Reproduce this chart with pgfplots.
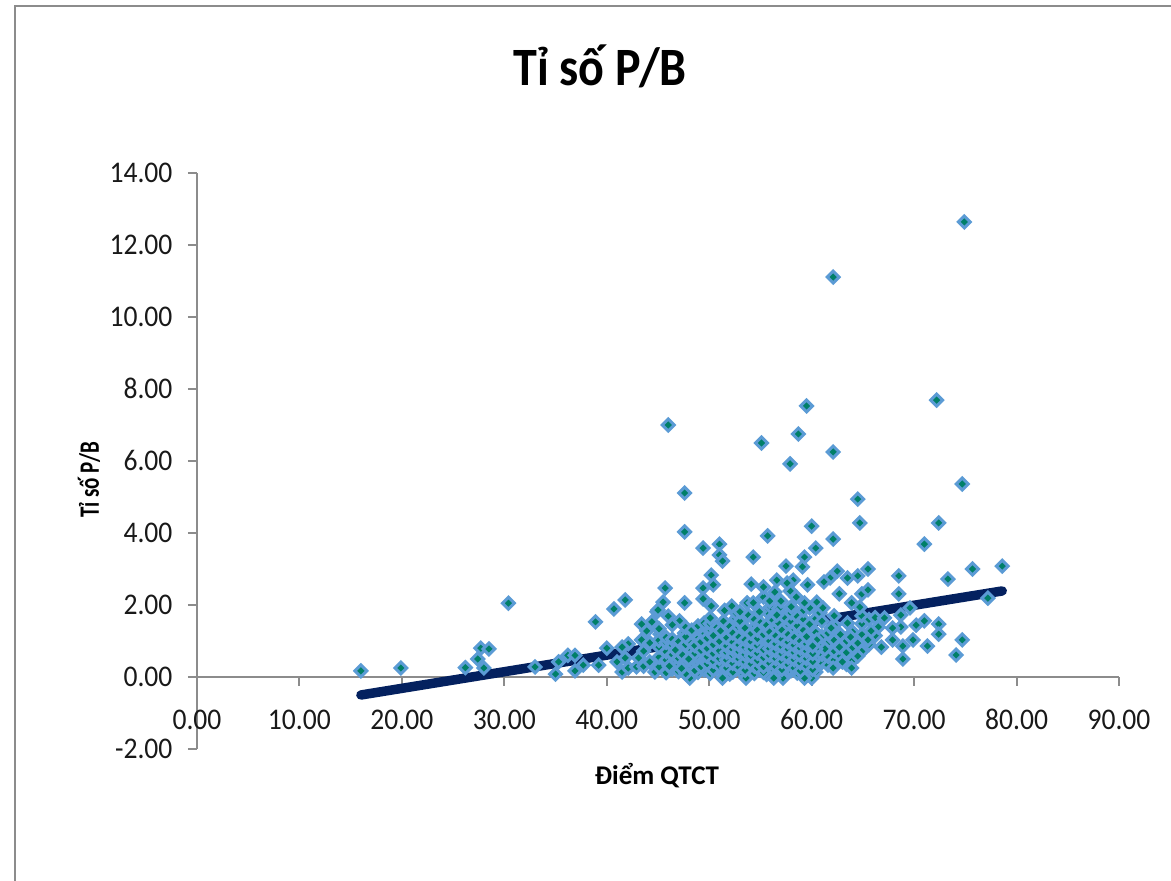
\documentclass[border=0pt]{standalone}
\usepackage{pgfplots}
\pgfplotsset{compat=1.18}
\usepackage{fontspec}
\setmainfont{Carlito}
\newfontfamily\tickf[FakeStretch=0.92]{Carlito}
\definecolor{mk}{HTML}{5B9BD5}
\definecolor{mi}{HTML}{007F68}
\definecolor{ln}{HTML}{04215F}
\definecolor{ax}{HTML}{8C8C8C}
\begin{document}
\begin{tikzpicture}[x=1pt,y=1pt]
\useasboundingbox (0,0) rectangle (1171,881);
\draw[color=ax,line width=2.8pt] (15,0) -- (15,875) -- (1171,875);
\begin{axis}[
  at={(197pt,132pt)},anchor=south west,
  scale only axis,width=922pt,height=576pt,
  xmin=0,xmax=90,ymin=-2,ymax=14,
  axis lines=middle,axis line style={color=ax,line width=2.8pt,-},
  hide obscured x ticks=false,hide obscured y ticks=false,
  xtick={0,10,...,90},ytick={-2,0,...,14},
  tick align=outside,major tick length=9pt,
  tick style={color=ax,line width=2pt},
  clip=false,
  /pgf/number format/assume math mode=true,
  /pgf/number format/fixed,/pgf/number format/fixed zerofill,/pgf/number format/precision=2,
  tick label style={font=\tickf\fontsize{30}{30}\selectfont,color=black!90,text height=20pt,text depth=0pt},
  xticklabel style={yshift=-20pt},
  yticklabel style={xshift=-12pt},
]
\addplot[only marks,mark=square*,mark size=4.2pt,
  mark options={rotate=45,draw=mk,fill=mi,line width=3pt}] table {
x y
16.0 0.17
19.9 0.25
26.2 0.26
27.7 0.80
28.5 0.78
27.4 0.50
28.0 0.25
30.4 2.05
33.0 0.28
35.0 0.08
35.3 0.42
36.2 0.60
36.9 0.60
36.9 0.17
37.7 0.33
39.2 0.33
38.9 1.53
40.0 0.80
40.7 1.89
41.8 2.14
41.0 0.42
41.5 0.14
42.1 0.25
41.8 0.53
42.1 0.92
41.5 0.83
42.9 0.28
43.1 0.53
43.4 1.03
43.9 1.28
43.4 1.47
44.4 1.53
45.2 1.19
45.5 2.08
44.9 1.81
46.0 1.69
45.7 2.47
47.1 1.56
47.6 2.06
47.6 4.03
47.6 5.11
46.0 7.00
44.7 0.14
45.5 0.42
46.7 0.61
47.6 1.22
48.1 -0.03
43.6 0.30
43.6 0.72
44.2 0.42
44.2 0.95
45.1 0.28
45.1 0.55
45.1 0.83
45.1 1.02
45.1 1.34
45.0 1.86
45.8 0.12
45.8 0.47
45.8 0.70
45.8 0.96
45.8 1.10
46.4 0.22
46.4 0.38
46.4 0.62
46.4 0.88
46.4 1.05
46.4 1.45
47.0 0.15
47.0 0.33
47.0 0.52
47.0 0.79
47.0 0.98
47.7 0.09
47.7 0.44
47.7 0.67
47.7 0.90
47.7 1.12
47.7 1.38
48.3 0.26
48.3 0.41
48.3 0.58
48.3 0.74
48.3 0.95
48.3 1.30
48.9 0.13
48.9 0.36
48.9 0.55
48.9 0.82
48.9 1.07
48.9 1.42
49.5 0.20
49.5 0.46
49.5 0.64
49.5 0.88
49.5 1.18
49.5 1.50
50.1 0.10
50.1 0.31
50.1 0.53
50.1 0.72
50.1 0.97
50.1 1.27
50.1 1.48
50.1 1.64
50.7 0.24
50.7 0.40
50.7 0.61
50.7 0.84
50.7 1.04
50.7 1.36
51.4 0.17
51.4 0.37
51.4 0.57
51.4 0.78
51.4 0.93
51.4 1.21
51.4 1.55
51.5 1.85
52.0 0.08
52.0 0.29
52.0 0.50
52.0 0.69
52.0 0.90
52.0 1.13
52.0 1.40
52.6 0.21
52.6 0.43
52.6 0.63
52.6 0.81
52.6 1.02
52.6 1.31
52.6 1.62
52.6 1.78
53.2 0.13
53.2 0.34
53.2 0.56
53.2 0.75
53.2 0.96
53.2 1.19
53.2 1.46
53.0 1.55
53.8 0.26
53.8 0.47
53.8 0.66
53.8 0.86
53.8 1.08
53.8 1.28
53.8 1.72
53.7 2.06
54.4 0.10
54.4 0.30
54.4 0.52
54.4 0.71
54.4 0.92
54.4 1.15
54.4 1.38
54.4 1.60
55.0 0.19
55.0 0.39
55.0 0.60
55.0 0.80
55.0 1.01
55.0 1.24
55.0 1.51
55.3 2.22
55.6 0.07
55.6 0.33
55.6 0.49
55.6 0.73
55.6 0.95
55.6 1.12
55.6 1.44
55.6 1.83
56.0 1.95
56.2 0.22
56.2 0.44
56.2 0.65
56.2 0.84
56.2 1.06
56.2 1.33
56.2 1.58
56.4 2.36
56.8 0.14
56.8 0.36
56.8 0.58
56.8 0.77
56.8 0.98
56.8 1.20
56.8 1.49
56.8 1.90
57.4 0.09
57.4 0.27
57.4 0.48
57.4 0.70
57.4 0.89
57.4 1.10
57.4 1.37
57.4 1.65
57.9 2.39
58.0 0.18
58.0 0.41
58.0 0.62
58.0 0.83
58.0 1.03
58.0 1.26
58.0 1.54
58.0 1.78
58.0 1.95
58.6 0.11
58.6 0.32
58.6 0.54
58.6 0.74
58.6 0.94
58.6 1.16
58.6 1.42
58.6 1.68
59.2 0.23
59.2 0.45
59.2 0.67
59.2 0.86
59.2 1.07
59.2 1.30
59.2 1.60
59.2 1.85
59.8 0.05
59.8 0.35
59.8 0.56
59.8 0.76
59.8 0.97
59.8 1.18
59.8 1.47
59.8 1.92
60.4 0.14
60.4 0.28
60.4 0.50
60.4 0.93
60.4 1.24
60.4 1.62
60.8 1.78
61.0 0.40
61.0 0.63
61.0 0.85
61.0 1.12
61.0 1.55
61.6 0.33
61.6 0.57
61.6 0.95
61.6 1.22
62.2 0.47
62.2 0.72
62.2 1.02
62.2 1.44
62.2 1.70
62.8 0.58
62.8 0.90
62.8 1.18
63.4 0.35
63.4 0.68
63.4 1.00
64.0 0.46
64.0 0.82
64.0 1.25
64.9 0.71
64.9 1.18
64.9 1.48
64.9 1.70
65.6 0.90
65.6 1.60
66.2 1.15
66.2 1.65
49.4 3.58
51.0 3.69
51.0 3.39
51.3 3.22
54.3 3.33
55.7 3.92
60.0 4.19
60.4 3.58
59.3 3.33
59.1 3.06
57.5 3.08
62.1 3.83
64.5 4.94
64.7 4.28
72.4 4.28
71.0 3.69
74.7 5.36
75.7 3.00
78.6 3.08
73.3 2.72
77.2 2.19
68.5 2.81
68.5 2.31
65.5 3.00
64.5 2.81
63.5 2.75
62.5 2.94
61.8 2.75
61.2 2.64
59.6 2.56
58.2 2.69
57.6 2.61
56.6 2.69
55.3 2.50
54.1 2.58
50.2 2.83
50.4 2.56
49.4 2.47
49.4 2.17
50.2 1.97
52.2 1.97
53.0 1.81
54.3 2.06
54.9 1.81
55.9 2.11
57.0 2.11
56.6 1.72
58.5 2.22
59.3 2.06
60.5 2.08
61.1 1.92
62.7 2.31
63.9 2.06
64.9 2.31
65.5 2.42
64.7 1.94
68.7 1.72
69.6 1.92
67.1 1.64
66.5 1.39
68.7 1.39
67.9 1.36
65.8 1.28
70.2 1.44
71.0 1.56
72.4 1.47
72.4 1.19
71.3 0.86
69.9 1.03
68.9 0.86
68.9 0.50
74.7 1.03
74.1 0.61
66.8 0.83
67.9 1.03
65.5 1.03
64.5 0.94
64.5 0.58
63.9 0.25
63.0 0.42
62.1 0.25
62.7 0.83
63.8 1.11
61.3 0.78
60.4 0.78
60.5 1.03
61.9 1.36
63.5 1.50
60.0 -0.03
59.3 -0.03
57.2 -0.03
56.3 -0.03
53.6 -0.03
51.3 -0.03
62.1 11.11
74.9 12.64
59.5 7.53
58.7 6.75
55.1 6.50
57.9 5.92
62.1 6.25
72.2 7.69
46.1 0.30
46.7 0.75
47.3 0.24
47.4 0.61
48.0 0.50
48.6 0.18
48.6 0.66
48.6 0.87
49.2 0.29
49.2 0.74
49.2 0.98
49.8 0.37
49.8 0.57
49.8 0.79
49.8 1.08
50.4 0.20
50.4 0.44
50.4 0.65
50.4 0.90
50.4 1.15
51.0 0.31
51.0 0.51
51.0 0.73
51.0 0.99
51.1 1.28
51.7 0.25
51.7 0.47
51.7 0.68
51.7 0.86
51.7 1.09
52.3 0.14
52.3 0.38
52.3 0.60
52.3 0.77
52.3 0.97
52.3 1.22
52.9 0.27
52.9 0.50
52.9 0.70
52.9 0.89
52.9 1.11
53.5 0.19
53.5 0.42
53.5 0.62
53.5 0.82
53.5 1.03
53.5 1.36
54.1 0.36
54.1 0.58
54.1 0.78
54.1 0.98
54.1 1.21
54.7 0.25
54.7 0.46
54.7 0.66
54.7 0.87
54.7 1.07
54.7 1.30
55.3 0.13
55.3 0.29
55.3 0.54
55.3 0.76
55.3 1.18
55.9 0.38
55.9 0.60
55.9 0.79
55.9 1.00
55.9 1.25
56.5 0.29
56.5 0.51
56.5 0.72
56.5 0.92
56.5 1.14
57.1 0.21
57.1 0.43
57.1 0.64
57.1 0.84
57.1 1.05
57.1 1.30
57.7 0.34
57.7 0.55
57.7 0.77
57.7 0.97
57.7 1.18
58.3 0.25
58.3 0.48
58.3 0.68
58.3 0.88
58.3 1.10
58.9 0.17
58.9 0.39
58.9 0.60
58.9 0.80
58.9 1.00
59.5 0.30
59.5 0.51
59.5 0.72
59.5 0.92
59.5 1.12
60.1 0.21
60.1 0.43
60.1 0.65
60.1 0.86
};
\addplot[color=ln,line width=9.5pt,line cap=round] coordinates {(16.0,-0.50) (78.6,2.39)};
\end{axis}
\node[font=\fontsize{54}{54}\selectfont\bfseries] at (600,815) {\scalebox{0.89}[1]{Tỉ số P/B}};
\node[font=\fontsize{27}{27}\selectfont\bfseries] at (657,105) {Điểm QTCT};
\node[font=\fontsize{28}{28}\selectfont\bfseries,rotate=90] at (89,401) {\scalebox{0.75}[1]{Tỉ số P/B}};
\end{tikzpicture}
\end{document}
